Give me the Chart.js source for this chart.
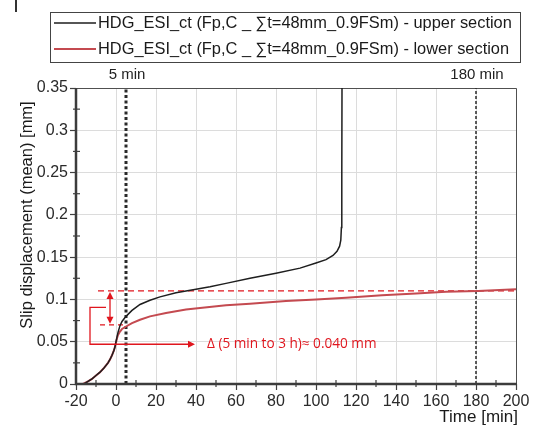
<!DOCTYPE html>
<html>
<head>
<meta charset="utf-8">
<script src="https://cdn.jsdelivr.net/npm/chart.js@4/dist/chart.umd.min.js"></script>
<style>
html,body{margin:0;padding:0;background:#fff;}
#wrap{position:relative;width:538px;height:428px;}
</style>
</head>
<body>
<div id="wrap"><canvas id="c" width="538" height="428"></canvas></div>
<script>
// ---- data ----
const seriesLabels = [
  'HDG_ESI_ct (Fp,C _ \u2211t=48mm_0.9FSm) - upper section',
  'HDG_ESI_ct (Fp,C _ \u2211t=48mm_0.9FSm) - lower section'
];
const upperTime = [-16,-14,-12,-10,-8,-6,-4,-3,-2,-1,-0.5,0,1,2,3,5,8,12,17,22,30,40,47,55,67,80,92,100,105,108.5,110.5,111.8,112.4,112.7,112.9,113.0];
const upperSlip = [0,0.003,0.006,0.010,0.014,0.019,0.025,0.029,0.034,0.040,0.044,0.050,0.061,0.069,0.074,0.080,0.087,0.094,0.099,0.103,0.108,0.112,0.115,0.119,0.125,0.131,0.137,0.143,0.147,0.152,0.157,0.163,0.170,0.185,0.25,0.35];
const lowerTime = [-16.5,-14,-12,-10,-8,-6,-4,-3,-2,-1,-0.5,0,0.5,1,2,3,5,8,12,17,25,35,42,55,67,85,100,115,133,150,165,181,200];
const lowerSlip = [0,0.003,0.006,0.010,0.014,0.019,0.025,0.029,0.034,0.040,0.044,0.049,0.054,0.058,0.062,0.065,0.068,0.072,0.076,0.080,0.084,0.088,0.090,0.093,0.095,0.098,0.100,0.102,0.105,0.107,0.109,0.110,0.112];
const yTickValues = [0, 0.05, 0.1, 0.15, 0.2, 0.25, 0.3, 0.35];
const yTickLabels = ['0', '0.05', '0.1', '0.15', '0.2', '0.25', '0.3', '0.35'];
const markerTimes = [5, 180];
const markerLabels = ['5 min', '180 min'];
const deltaLevels = [0.07, 0.11];       // slip at 5 min (lower) and at 180 min
const deltaText = '\u0394 (5 min to 3 h)\u2248 0.040 mm';
const xTitle = 'Time [min]';
const yTitle = 'Slip displacement (mean) [mm]';

const ANN_RED = '#e0161e';
const toPts = (xs, ys) => xs.map((x, i) => ({x: x, y: ys[i]}));

const datasets = [
  {label: seriesLabels[0], data: toPts(upperTime, upperSlip), borderColor: '#1e1e1e', borderWidth: 1.5},
  {label: seriesLabels[1], data: toPts(lowerTime, lowerSlip), borderColor: '#c44a50', borderWidth: 2},
  // reference lines
  {label: '_m5', data: [{x: markerTimes[0], y: 0}, {x: markerTimes[0], y: 0.35}], borderColor: '#2a2a2a', borderWidth: 3, borderDash: [3, 2.5]},
  {label: '_m180', data: [{x: markerTimes[1], y: 0}, {x: markerTimes[1], y: 0.35}], borderColor: '#2a2a2a', borderWidth: 1.5, borderDash: [3, 2]},
  {label: '_hi', data: [{x: -9, y: deltaLevels[1]}, {x: 200, y: deltaLevels[1]}], borderColor: ANN_RED, borderWidth: 1.3, borderDash: [6, 4]},
  {label: '_lo', data: [{x: -8, y: deltaLevels[0]}, {x: markerTimes[0], y: deltaLevels[0]}], borderColor: ANN_RED, borderWidth: 1.3, borderDash: [5, 4]}
];
datasets.forEach(d => { d.showLine = true; d.pointRadius = 0; d.fill = false; d.tension = 0; });

function arrowHead(ctx, x, y, dir, size) {
  ctx.beginPath();
  if (dir === 'up') { ctx.moveTo(x, y); ctx.lineTo(x - size/2, y + size); ctx.lineTo(x + size/2, y + size); }
  if (dir === 'down') { ctx.moveTo(x, y); ctx.lineTo(x - size/2, y - size); ctx.lineTo(x + size/2, y - size); }
  if (dir === 'right') { ctx.moveTo(x, y); ctx.lineTo(x - size, y - size/2); ctx.lineTo(x - size, y + size/2); }
  ctx.closePath(); ctx.fill();
}

const decor = {
  id: 'decor',
  beforeDatasetsDraw(chart) {
    const {ctx, chartArea: a, scales: {x, y}} = chart;
    ctx.save();
    ctx.strokeStyle = '#404040'; ctx.lineWidth = 1.2;
    for (let v = -10; v < 200; v += 20) {
      const px = x.getPixelForValue(v);
      ctx.beginPath(); ctx.moveTo(px, a.bottom - 4); ctx.lineTo(px, a.bottom + 3); ctx.stroke();
    }
    for (let v = 0.025; v < 0.35; v += 0.05) {
      const py = y.getPixelForValue(v);
      ctx.beginPath(); ctx.moveTo(a.left - 3, py); ctx.lineTo(a.left + 4, py); ctx.stroke();
    }
    ctx.strokeStyle = '#505050'; ctx.lineWidth = 1;
    ctx.beginPath(); ctx.moveTo(a.left, a.top + 0.5); ctx.lineTo(a.right + 0.5, a.top + 0.5); ctx.lineTo(a.right + 0.5, a.bottom); ctx.stroke();
    ctx.restore();
  },
  afterDraw(chart) {
    const {ctx, chartArea: a, scales: {x, y}} = chart;
    ctx.save();
    ctx.strokeStyle = '#3c3c3c'; ctx.lineWidth = 2.5;
    ctx.beginPath(); ctx.moveTo(a.left, a.top); ctx.lineTo(a.left, a.bottom); ctx.lineTo(a.right + 1, a.bottom); ctx.stroke();

    // annotations
    ctx.strokeStyle = ANN_RED; ctx.fillStyle = ANN_RED; ctx.lineWidth = 1.3;
    const ax = x.getPixelForValue(-3);
    const yHi = y.getPixelForValue(deltaLevels[1]);
    const yLo = y.getPixelForValue(deltaLevels[0]);
    ctx.beginPath(); ctx.moveTo(ax, yHi + 6); ctx.lineTo(ax, yLo - 6); ctx.stroke();
    arrowHead(ctx, ax, yHi + 1, 'up', 7);
    arrowHead(ctx, ax, yLo - 1, 'down', 7);
    const bx0 = x.getPixelForValue(-5);
    const bx1 = x.getPixelForValue(-13);
    const byTop = y.getPixelForValue(0.0905);
    const byBot = y.getPixelForValue(0.047);
    const bxEnd = x.getPixelForValue(39.5);
    ctx.beginPath(); ctx.moveTo(bx0, byTop); ctx.lineTo(bx1, byTop); ctx.lineTo(bx1, byBot); ctx.lineTo(bxEnd - 6, byBot); ctx.stroke();
    arrowHead(ctx, bxEnd, byBot, 'right', 7);
    ctx.font = '13.6px "Open Sans"'; ctx.textAlign = 'left'; ctx.textBaseline = 'middle';
    ctx.fillText(deltaText, x.getPixelForValue(45.5), byBot);

    // marker labels
    ctx.fillStyle = '#222'; ctx.font = '15px "Liberation Sans", Arial'; ctx.textAlign = 'center'; ctx.textBaseline = 'middle';
    markerTimes.forEach((t, i) => ctx.fillText(markerLabels[i], x.getPixelForValue(t) + 1, 75));

    // axis titles
    ctx.font = '17px "Liberation Sans", Arial'; ctx.fillStyle = '#1a1a1a';
    ctx.textAlign = 'right'; ctx.textBaseline = 'middle';
    ctx.fillText(xTitle, 518, 417);
    ctx.save(); ctx.translate(27, 215); ctx.rotate(-Math.PI / 2);
    ctx.textAlign = 'center'; ctx.font = '16.5px "Liberation Sans", Arial';
    ctx.fillText(yTitle, 0, 0);
    ctx.restore();

    // legend
    ctx.strokeStyle = '#444'; ctx.lineWidth = 1;
    ctx.strokeRect(50.5, 12.5, 470, 50);
    ctx.font = '16.4px "Liberation Sans", Arial'; ctx.textAlign = 'left'; ctx.fillStyle = '#1a1a1a';
    const rows = [23, 49];
    [0, 1].forEach(i => {
      const ds = chart.data.datasets[i];
      ctx.strokeStyle = ds.borderColor; ctx.lineWidth = i === 0 ? 1.5 : 2;
      ctx.beginPath(); ctx.moveTo(54, rows[i]); ctx.lineTo(96, rows[i]); ctx.stroke();
      ctx.fillText(ds.label, 98, rows[i]);
    });
    ctx.fillStyle = '#333'; ctx.fillRect(15, 0, 2, 12);
    ctx.restore();
  }
};

new Chart(document.getElementById('c'), {
  type: 'scatter',
  data: {datasets: datasets},
  options: {
    responsive: false,
    animation: false,
    layout: {padding: {top: 88, left: 0, right: 22, bottom: 0}},
    plugins: {legend: {display: false}, tooltip: {enabled: false}},
    scales: {
      x: {
        type: 'linear', min: -20, max: 200,
        afterFit: s => { s.height = 44; },
        border: {display: false},
        grid: {color: '#dcdcdc', lineWidth: 1, drawTicks: true, tickLength: 6, tickColor: '#404040', tickWidth: 1.2},
        ticks: {stepSize: 20, color: '#2a2a2a', padding: 2, font: {family: '"Liberation Sans", Arial', size: 16}, maxRotation: 0}
      },
      y: {
        type: 'linear', min: 0, max: 0.35,
        afterFit: s => { s.width = 76; },
        afterBuildTicks: s => { s.ticks = yTickValues.map(v => ({value: v})); },
        border: {display: false},
        grid: {color: '#dcdcdc', lineWidth: 1, drawTicks: true, tickLength: 6, tickColor: '#404040', tickWidth: 1.2},
        ticks: {color: '#2a2a2a', padding: 2, font: {family: '"Liberation Sans", Arial', size: 16},
          callback: (v, i) => yTickLabels[i]}
      }
    }
  },
  plugins: [decor]
});
</script>
</body>
</html>
